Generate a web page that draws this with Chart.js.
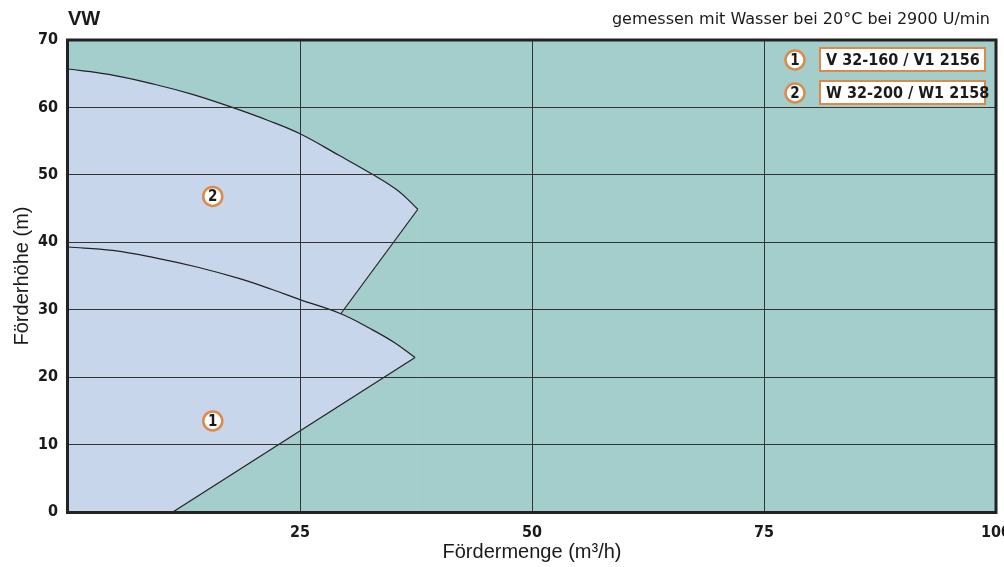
<!DOCTYPE html>
<html>
<head>
<meta charset="utf-8">
<script src="https://cdn.jsdelivr.net/npm/chart.js@4.4.0/dist/chart.umd.min.js"></script>
<style>
  html, body { margin: 0; padding: 0; background: #fff; }
  #wrap { width: 1004px; height: 567px; }
</style>
</head>
<body>
<div id="wrap"><canvas id="chart" width="1004" height="567"></canvas></div>
<script>
// Pump 1 (V 32-160 / V1 2156): head curve and the straight limit line down to the axis
const pump1Flow = [0, 4.8, 9.4, 14, 18.5, 22, 25, 29.4, 32.7, 35.2, 37.4];
const pump1Head = [39.3, 38.8, 37.7, 36.3, 34.6, 33.0, 31.5, 29.4, 27.1, 25.1, 22.9];
const pump1LimitFlow = [37.4, 11.3];
const pump1LimitHead = [22.9, 0];

// Pump 2 (W 32-200 / W1 2158): head curve and the limit line down to curve 1
const pump2Flow = [0, 4.4, 9.4, 13.5, 17.7, 21.5, 25, 29.2, 32.9, 35.6, 37.7];
const pump2Head = [65.7, 64.9, 63.4, 61.9, 60.0, 58.1, 56.1, 52.9, 50.0, 47.6, 44.9];
const pump2LimitFlow = [37.7, 29.4];
const pump2LimitHead = [44.9, 29.4];

const seriesNames = ['V 32-160 / V1 2156', 'W 32-200 / W1 2158'];
const badgeLabels = ['1', '2'];
const badgeFlow = [15.6, 15.6];
const badgeHead = [13.5, 46.8];

const xTicks = [0, 25, 50, 75, 100];
const yTicks = [0, 10, 20, 30, 40, 50, 60, 70];

const TEAL = '#a3cecc';
const AREA = '#c8d6ec';
const ORANGE = '#dd8a48';
const INK = '#1a1a1a';
const LINE = '#222';
const NARROW = '"Liberation Sans Narrow", "DejaVu Sans Condensed", sans-serif';

const toPoints = (xs, ys) => xs.map((v, i) => ({ x: v, y: ys[i] }));

function drawBadge(ctx, cx, cy, text) {
    ctx.beginPath();
    ctx.arc(cx, cy, 9.5, 0, Math.PI * 2);
    ctx.fillStyle = '#fff';
    ctx.fill();
    ctx.lineWidth = 2.5;
    ctx.strokeStyle = ORANGE;
    ctx.stroke();
    ctx.fillStyle = INK;
    ctx.font = 'bold 15px ' + NARROW;
    ctx.textAlign = 'center';
    ctx.textBaseline = 'middle';
    ctx.fillText(text, cx, cy + 1);
}

const decor = {
    id: 'decor',
    beforeDraw(chart) {
        const { ctx, chartArea: a } = chart;
        ctx.save();
        ctx.fillStyle = '#fff';
        ctx.fillRect(0, 0, chart.width, chart.height);
        ctx.fillStyle = TEAL;
        ctx.fillRect(a.left, a.top, a.right - a.left, a.bottom - a.top);
        ctx.restore();
    },
    afterDraw(chart) {
        const { ctx, chartArea: a, scales: { x, y } } = chart;
        ctx.save();

        // frame
        ctx.strokeStyle = LINE;
        ctx.lineWidth = 3;
        ctx.strokeRect(a.left - 0.5, a.top, a.right - a.left + 0.5, a.bottom - a.top + 0.5);

        // numbered badges inside the areas
        badgeLabels.forEach((t, i) => {
            drawBadge(ctx, x.getPixelForValue(badgeFlow[i]), y.getPixelForValue(badgeHead[i]), t);
        });

        // legend boxes, top right
        seriesNames.forEach((name, i) => {
            const top = a.top + 8 + i * 33;
            const boxL = a.right - 176;
            drawBadge(ctx, a.right - 201, top + 12, badgeLabels[i]);
            ctx.fillStyle = '#fff';
            ctx.fillRect(boxL, top, 165, 23);
            ctx.strokeStyle = ORANGE;
            ctx.lineWidth = 2;
            ctx.strokeRect(boxL, top, 165, 23);
            ctx.fillStyle = INK;
            ctx.font = 'bold 16px ' + NARROW;
            ctx.textAlign = 'left';
            ctx.textBaseline = 'middle';
            ctx.fillText(name, boxL + 6, top + 12.5);
        });

        // header
        ctx.fillStyle = INK;
        ctx.textBaseline = 'middle';
        ctx.textAlign = 'left';
        ctx.font = 'bold 20px "Liberation Sans", sans-serif';
        ctx.fillText('VW', a.left, 19);
        ctx.textAlign = 'right';
        ctx.font = '16px "DejaVu Sans", sans-serif';
        ctx.fillText('gemessen mit Wasser bei 20°C bei 2900 U/min', 990, 20);
        ctx.restore();
    }
};

const tickFont = { family: NARROW, size: 16, weight: 'bold' };
const titleFont = { family: '"Liberation Sans", sans-serif', size: 20 };

// fills are painted from the last dataset to the first, so index 0 ends on top
const lineStyle = { showLine: true, borderColor: LINE, borderWidth: 1.2, pointRadius: 0 };

new Chart(document.getElementById('chart'), {
    type: 'scatter',
    data: {
        datasets: [
            { ...lineStyle, data: toPoints(pump1LimitFlow, pump1LimitHead), fill: 'origin', backgroundColor: TEAL },
            { ...lineStyle, label: seriesNames[0], data: toPoints(pump1Flow, pump1Head),
              tension: 0.4, fill: 'origin', backgroundColor: AREA },
            { ...lineStyle, data: toPoints(pump2LimitFlow, pump2LimitHead), fill: 'origin', backgroundColor: TEAL },
            { ...lineStyle, label: seriesNames[1], data: toPoints(pump2Flow, pump2Head),
              tension: 0.4, fill: 'origin', backgroundColor: AREA }
        ]
    },
    options: {
        responsive: false,
        animation: false,
        devicePixelRatio: 1,
        layout: { padding: { top: 40, right: 8, left: 0, bottom: 0 } },
        plugins: {
            legend: { display: false },
            tooltip: { enabled: false },
            filler: { drawTime: 'beforeDatasetsDraw' }
        },
        scales: {
            x: {
                type: 'linear',
                min: xTicks[0],
                max: xTicks[xTicks.length - 1],
                afterBuildTicks: (scale) => { scale.ticks = xTicks.map(v => ({ value: v })); },
                afterFit: (scale) => {
                    scale.height = 55;
                    scale.paddingLeft = 0;
                    scale.paddingRight = 0;
                },
                ticks: {
                    font: tickFont,
                    color: INK,
                    padding: 11,
                    maxRotation: 0,
                    callback: (v) => (v === 0 ? '' : String(v))
                },
                grid: { color: '#333', lineWidth: 1, drawTicks: false, z: 1 },
                border: { display: false },
                title: {
                    display: true,
                    text: 'Fördermenge (m³/h)',
                    font: titleFont,
                    color: INK,
                    padding: { top: 0, bottom: 3 }
                }
            },
            y: {
                type: 'linear',
                min: yTicks[0],
                max: yTicks[yTicks.length - 1],
                afterBuildTicks: (scale) => { scale.ticks = yTicks.map(v => ({ value: v })); },
                afterFit: (scale) => { scale.width = 68; },
                ticks: {
                    font: tickFont,
                    color: INK,
                    padding: 10
                },
                grid: { color: '#333', lineWidth: 1, drawTicks: false, z: 1 },
                border: { display: false },
                title: {
                    display: true,
                    text: 'Förderhöhe (m)',
                    font: titleFont,
                    color: INK,
                    padding: { top: 10, bottom: 0 }
                }
            }
        }
    },
    plugins: [decor]
});
</script>
</body>
</html>
